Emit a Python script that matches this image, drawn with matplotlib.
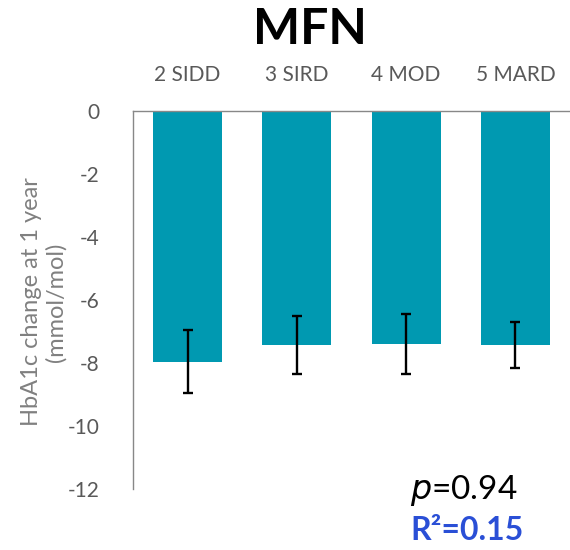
import matplotlib
matplotlib.use("Agg")
import matplotlib.pyplot as plt

categories = ["2 SIDD", "3 SIRD", "4 MOD", "5 MARD"]
values = [-7.96, -7.44, -7.41, -7.44]
errors = [1.0, 0.92, 0.95, 0.73]
yticks = [0, -2, -4, -6, -8, -10, -12]
title = "MFN"
ylabel = "HbA1c change at 1 year\n(mmol/mol)"
p_text = "0.94"
r2_text = "R²=0.15"

plt.rcParams['font.family'] = ['Lato', 'DejaVu Sans']
fig = plt.figure(figsize=(5.7, 5.5), dpi=100)
ax = fig.add_axes([133/570, 1-489/550, 1-133/570, (489-111)/550])

x = list(range(len(categories)))
ax.bar(x, values, width=0.63, color="#0099B1", zorder=2)
ax.errorbar(x, values, yerr=errors, fmt="none", ecolor="black",
            elinewidth=1.7, capsize=3.5, capthick=1.7, zorder=3)

ax.set_xlim(-0.5, len(categories) - 0.5)
ax.set_ylim(-12, 0)
ax.set_yticks(yticks)
ax.set_yticklabels([str(t) for t in yticks])
ax.xaxis.tick_top()
ax.set_xticks(x)
ax.set_xticklabels(categories)
ax.tick_params(axis="x", length=0, pad=19, labelsize=15, labelcolor="#595959")
ax.tick_params(axis="y", length=0, pad=24, labelsize=15, labelcolor="#595959")

for s in ["right", "bottom"]:
    ax.spines[s].set_visible(False)
ax.spines["top"].set_color("#888888")
ax.spines["left"].set_color("#888888")
ax.spines["top"].set_linewidth(1.0)
ax.spines["left"].set_linewidth(1.0)

fig.text(44/570, 1-302/550, ylabel, rotation=90, ha="center", va="center",
         fontsize=17, color="#808080", linespacing=1.15, multialignment="center")

fig.text(0.544, 0.947, title, ha="center", va="center", fontsize=36, fontweight="bold")
fig.text(410/570, 1-490/550, "$\\it{p}$=" + p_text, ha="left", va="center", fontsize=24, color="black")
fig.text(410/570, 1-530/550, r2_text, ha="left", va="center", fontsize=23, fontweight="bold", color="#2A4FD6")

fig.savefig("out.png", dpi=100)
